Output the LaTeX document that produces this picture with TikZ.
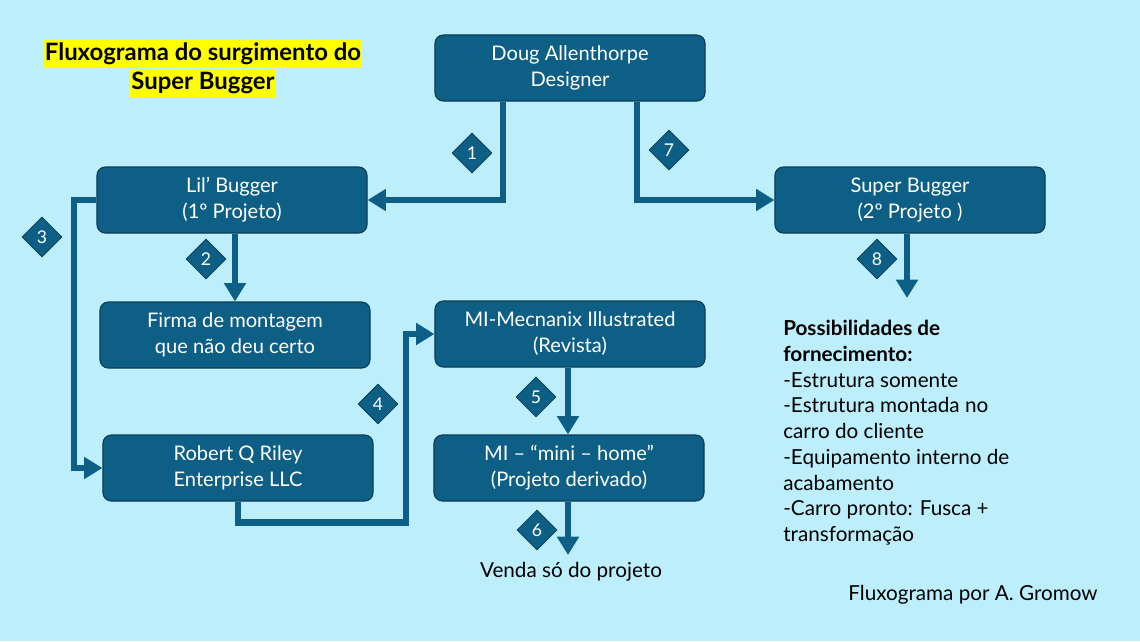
\documentclass[tikz,border=0pt]{standalone}
\usepackage{fontspec}
\setmainfont{Lato}
\usepackage{xcolor}
\usetikzlibrary{arrows.meta,calc,positioning,shapes.geometric}
\definecolor{bgcyan}{HTML}{BDEEFC}
\definecolor{boxblue}{HTML}{0E5F85}
\definecolor{boxline}{HTML}{0B3D55}
\definecolor{hilite}{HTML}{FFFF00}
\tikzset{%
  flow/.style={line width=4.4pt,boxblue,-{Triangle[length=13pt,width=15pt]}},
  stepnode/.style={rectangle,rounded corners=6pt,draw=boxline,line width=0.8pt,fill=boxblue,
    text=white,minimum width=6.75cm,minimum height=1.65cm,align=center,font=\fontsize{14.3}{18.5}\selectfont},
  tag/.style={diamond,fill=boxblue,draw=boxline,line width=0.5pt,text=white,inner sep=0pt,
    minimum size=1cm,font=\fontsize{12.5}{14}\selectfont},
  plain/.style={align=left,text=black,font=\fontsize{14.7}{18.3}\selectfont},
  heading/.style={fill=hilite,inner xsep=1pt,inner ysep=0pt,minimum height=0.72cm,
    font=\bfseries\fontsize{17}{17}\selectfont},
}

\begin{document}
\begin{tikzpicture}[x=0.025cm,y=-0.025cm]
      \fill[bgcyan] (0,0) rectangle (1140,641);
      \useasboundingbox (0,0) rectangle (1140,641);

      % title
      \node[heading] (title1) at (203,54) {Fluxograma do surgimento do};
      \node[heading,below=0pt of title1] (title2) {Super Bugger};

      % boxes
      \node[stepnode] (doug) at (570,68) {Doug Allenthorpe\\Designer};
      \node[stepnode] (lil) at (232,200) {Lil’ Bugger\\(1º Projeto)};
      \node[stepnode] (super) at (910,200) {Super Bugger\\(2º Projeto )};
      \node[stepnode] (firma) at (235,335) {Firma de montagem\\que não deu certo};
      \node[stepnode] (mecnanix) at (570,334) {MI-Mecnanix Illustrated\\(Revista)};
      \node[stepnode] (riley) at (238,468) {Robert Q Riley\\Enterprise LLC};
      \node[stepnode] (minihome) at (569,468) {MI – “mini – home”\\(Projeto derivado)};

      % free ends
      \node[plain] (venda) at (571,572) {Venda só do projeto};
      \coordinate (vendatop) at (568,555);
      \coordinate (supplyend) at (907,298);

      % arrows
      \draw[flow] ($(doug.south)+(-67,0)$) |- (lil.east);
      \draw[flow] ($(doug.south)+(67,0)$) |- (super.west);
      \draw[flow] (lil.south -| firma.north) -- (firma.north);
      \draw[flow] (lil.west) -- ++(-22,0) |- (riley.west);
      \draw[flow] (riley.south) -- ++(0,21) -- ++(168,0) |- (mecnanix.west);
      \draw[flow] ($(mecnanix.south)+(-2,0)$) -- ($(minihome.north)+(-1,0)$);
      \draw[flow] ($(minihome.south)+(-1,0)$) -- (vendatop);
      \draw[flow] (super.south -| supplyend) -- (supplyend);

      % step numbers
      \node[tag] (n1) at (472,153) {1};
      \node[tag] (n7) at (669,150) {7};
      \node[tag] (n2) at (206,259) {2};
      \node[tag] (n3) at (42,237) {3};
      \node[tag] (n4) at (378,404) {4};
      \node[tag] (n5) at (536,397) {5};
      \node[tag] (n6) at (537,530) {6};
      \node[tag] (n8) at (877,259) {8};

      % supply list
      \node[plain,anchor=north west,inner sep=0pt] (supply) at (783,320)
        {\textbf{Possibilidades de}\\\textbf{fornecimento:}\\-Estrutura somente\\-Estrutura montada no\\carro do cliente\\-Equipamento interno de\\acabamento\\-Carro pronto: Fusca +\\transformação};
      \node[plain] (credit) at (973,595) {Fluxograma por A. Gromow};
    \end{tikzpicture}
\end{document}
